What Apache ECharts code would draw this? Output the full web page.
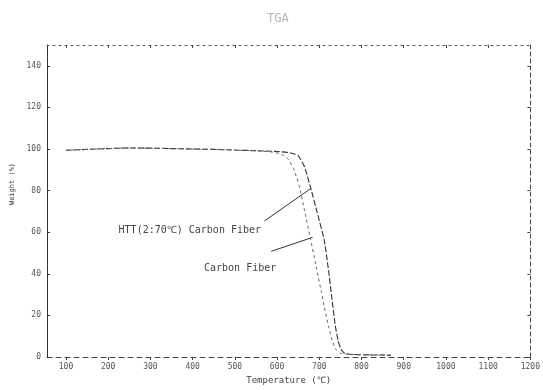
<!DOCTYPE html>
<html>
<head>
<meta charset="utf-8">
<script src="https://cdn.jsdelivr.net/npm/echarts@6/dist/echarts.min.js"></script>
<style>
  html, body { margin: 0; padding: 0; background: #fff; }
  #main { width: 543px; height: 390px; }
</style>
</head>
<body>
<div id="main"></div>
<script>
// tick labels
const xTicks = [100, 200, 300, 400, 500, 600, 700, 800, 900, 1000, 1100, 1200]
const yTicks = [0, 20, 40, 60, 80, 100, 120, 140]

// HTT(2:70℃) Carbon Fiber  [temperature, weight %]
const httCurve = [
  [100, 99.4], [150, 99.8], [200, 100.2], [250, 100.5], [300, 100.4], [350, 100.2],
  [400, 100.0], [450, 99.8], [500, 99.5], [550, 99.2], [600, 98.8], [630, 98.2],
  [650, 96.8], [665, 91.5], [680, 81], [695, 69.5], [712, 56], [721, 43], [730, 28],
  [738, 15], [745, 7.5], [752, 3.5], [760, 1.8], [780, 1.2], [820, 1.0], [870, 0.9]
]
// Carbon Fiber
const cfCurve = [
  [100, 99.4], [150, 99.8], [200, 100.2], [250, 100.5], [300, 100.4], [350, 100.2],
  [400, 100.0], [450, 99.8], [500, 99.5], [550, 99.1], [590, 98.5], [610, 97.5],
  [625, 95.5], [638, 91], [647, 86], [654, 81], [666, 69.5], [679, 57], [692, 44],
  [705, 31], [715, 21], [723, 14], [732, 7], [740, 3.5], [750, 1.8], [770, 1.2],
  [820, 1.0], [860, 1.0]
]

// annotations: text anchor (right end of text) and leader line [from, to]
const httText = [562, 61]
const cfText = [598, 42.5]
const httLeader = [[570, 65.4], [680, 81]]
const cfLeader = [[586, 50.8], [684, 57.5]]

const chart = echarts.init(document.getElementById('main'))
const font = 'DejaVu Sans Mono'

function noteStyle (name) {
  return {
    formatter: name,
    position: 'inside',
    align: 'right',
    verticalAlign: 'middle',
    fontFamily: font,
    fontSize: 10,
    color: '#444'
  }
}

const option = {
  animation: false,
  backgroundColor: '#fff',
  title: {
    text: 'TGA',
    left: 262,
    top: 8,
    textStyle: { fontFamily: font, fontSize: 12, fontWeight: 'normal', color: '#b5b5b5' }
  },
  grid: { left: 47, right: 6, top: 45, bottom: 30 },
  xAxis: [
    {
      type: 'value',
      min: 55,
      max: 1200,
      name: 'Temperature (℃)',
      nameLocation: 'middle',
      nameGap: 19,
      nameTextStyle: { fontFamily: font, fontSize: 9, color: '#444' },
      splitLine: { show: false },
      axisLine: { onZero: false, lineStyle: { color: '#444', type: [5, 4], width: 1 } },
      axisTick: { customValues: xTicks, inside: false, length: 3, lineStyle: { color: '#444' } },
      axisLabel: {
        customValues: xTicks,
        formatter: v => String(v),
        fontFamily: font,
        fontSize: 8,
        color: '#555',
        margin: 6
      }
    },
    {
      type: 'value',
      position: 'top',
      min: 55,
      max: 1200,
      splitLine: { show: false },
      axisLine: { onZero: false, lineStyle: { color: '#555', type: [2, 4], width: 1 } },
      axisTick: { customValues: xTicks, inside: true, length: 3, lineStyle: { color: '#444' } },
      axisLabel: { show: false }
    }
  ],
  yAxis: [
    {
      type: 'value',
      min: 0,
      max: 150,
      name: 'Weight (%)',
      nameLocation: 'middle',
      nameGap: 22,
      nameTextStyle: { fontFamily: font, fontSize: 7, color: '#333', padding: [0, 0, 0, 34] },
      splitLine: { show: false },
      axisLine: { onZero: false, lineStyle: { color: '#333', width: 1 } },
      axisTick: { customValues: yTicks, inside: true, length: 3, lineStyle: { color: '#333' } },
      axisLabel: { customValues: yTicks, fontFamily: font, fontSize: 8, color: '#555', margin: 6 }
    },
    {
      type: 'value',
      position: 'right',
      min: 0,
      max: 150,
      splitLine: { show: false },
      axisLine: { onZero: false, lineStyle: { color: '#444', type: [4, 3], width: 1 } },
      axisTick: { customValues: yTicks, inside: true, length: 3, lineStyle: { color: '#444' } },
      axisLabel: { show: false }
    }
  ],
  series: [
    {
      name: 'HTT(2:70℃) Carbon Fiber',
      type: 'line',
      data: httCurve,
      symbol: 'none',
      smooth: 0.15,
      lineStyle: { color: '#333', width: 1.1, type: [6, 2] },
      markLine: {
        silent: true,
        symbol: 'none',
        label: { show: false },
        lineStyle: { color: '#333', width: 1, type: 'solid' },
        data: [[{ coord: httLeader[0] }, { coord: httLeader[1] }]]
      },
      markPoint: {
        silent: true,
        symbol: 'circle',
        symbolSize: 0,
        label: noteStyle('HTT(2:70℃) Carbon Fiber'),
        data: [{ coord: httText }]
      }
    },
    {
      name: 'Carbon Fiber',
      type: 'line',
      data: cfCurve,
      symbol: 'none',
      smooth: 0.15,
      lineStyle: { color: '#666', width: 1, type: [3, 3] },
      markLine: {
        silent: true,
        symbol: 'none',
        label: { show: false },
        lineStyle: { color: '#333', width: 1, type: 'solid' },
        data: [[{ coord: cfLeader[0] }, { coord: cfLeader[1] }]]
      },
      markPoint: {
        silent: true,
        symbol: 'circle',
        symbolSize: 0,
        label: noteStyle('Carbon Fiber'),
        data: [{ coord: cfText }]
      }
    }
  ]
}

chart.setOption(option)
</script>
</body>
</html>
